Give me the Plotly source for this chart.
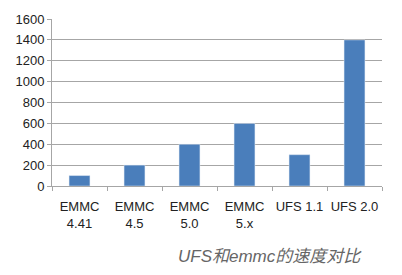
import plotly.graph_objects as go

categories = ["EMMC<br>4.41", "EMMC<br>4.5", "EMMC<br>5.0", "EMMC<br>5.x", "UFS 1.1", "UFS 2.0"]
speeds = [100, 200, 400, 600, 300, 1400]
y_ticks = [0, 200, 400, 600, 800, 1000, 1200, 1400, 1600]

fig = go.Figure(go.Bar(x=categories, y=speeds, marker_color="#4A7EBB", width=0.38))

fig.update_layout(
    width=402, height=275,
    margin=dict(l=52, r=20, t=12, b=89),
    paper_bgcolor="white", plot_bgcolor="white",
    showlegend=False,
    font=dict(family="Liberation Sans, Arial, sans-serif", color="#222222", size=13),
)
fig.update_yaxes(
    range=[0, 1600], tickvals=y_ticks,
    showgrid=True, gridcolor="#A6A6A6", gridwidth=1,
    showline=True, linecolor="#A6A6A6", linewidth=1,
    ticks="outside", ticklen=4, tickcolor="#A6A6A6",
    tickfont=dict(size=13, color="#222222"),
    zeroline=False,
)
fig.update_xaxes(
    showline=True, linecolor="#A6A6A6", linewidth=1,
    ticks="outside", ticklen=4, tickcolor="#A6A6A6", tickson="boundaries",
    tickfont=dict(size=13, color="#222222"),
    tickangle=0,
    ticklabelstandoff=8,
    range=[-0.5, 5.5],
)
fig.add_annotation(
    text="<i>UFS和emmc的速度对比</i>", xref="paper", yref="paper",
    x=0.66, y=-0.42, xanchor="center", yanchor="middle", showarrow=False,
    font=dict(size=17, color="#666666", family="Liberation Sans, Noto Sans CJK SC, sans-serif"),
)

fig.write_html("out.html")
